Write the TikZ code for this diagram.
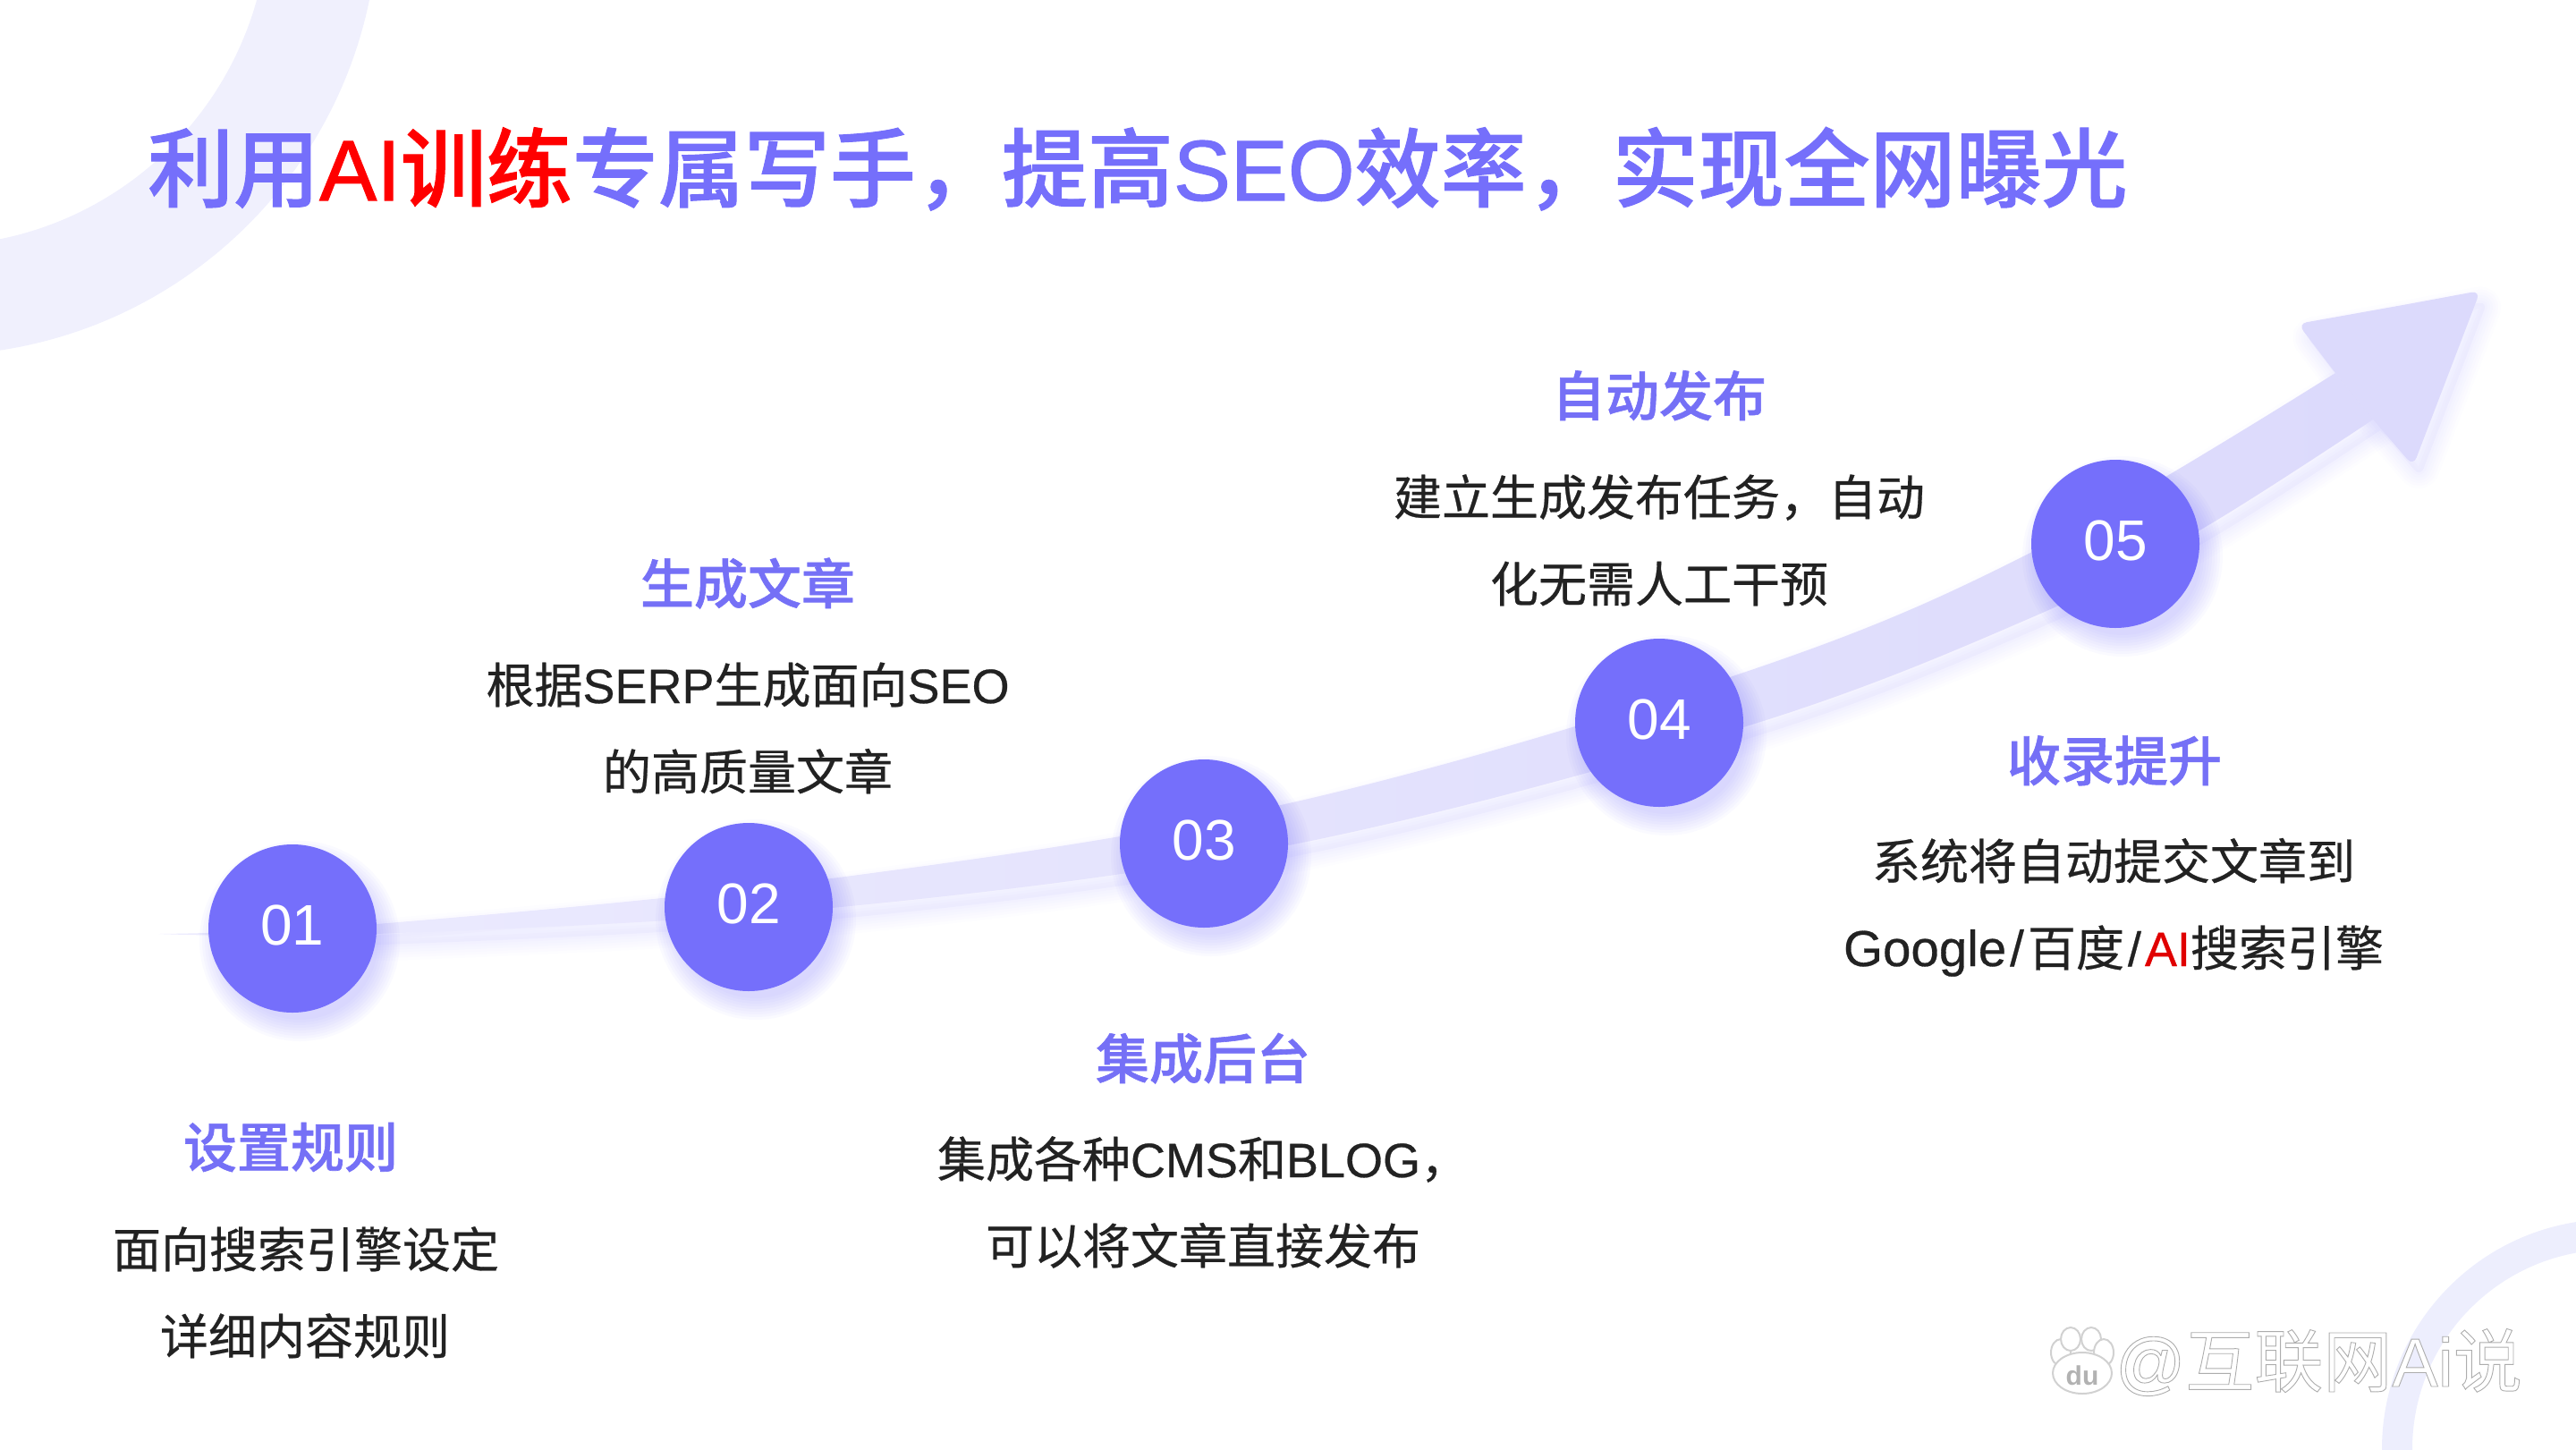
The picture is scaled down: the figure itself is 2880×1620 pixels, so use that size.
\documentclass[tikz,border=0pt]{standalone}
\usepackage{fontspec}
\setmainfont{Noto Sans CJK SC}
\newfontfamily\cnm{Noto Sans CJK SC Medium}[FakeBold=1]
\newfontfamily\cnbody{Noto Sans CJK SC}[FakeBold=.5]
\newfontfamily\lat{Liberation Sans}
\newfontfamily\latbody{Liberation Sans}[FakeBold=.5]
\newfontfamily\latb{Liberation Sans}[FakeBold=1.2]
\newcommand{\en}[1]{{\latbody #1}}
\newcommand{\fwc}{\char"FF0C\relax}
\definecolor{brand}{HTML}{756FFB}
\definecolor{headc}{HTML}{7570F6}
\definecolor{ringa}{HTML}{F0F0FD}
\definecolor{ringb}{HTML}{EDEEFD}
\definecolor{bandl}{HTML}{ECEBFE}
\definecolor{bandr}{HTML}{DCDAFC}
\definecolor{bodyc}{HTML}{222222}
\definecolor{redb}{HTML}{E00000}
\newcommand{\bandoutline}{
  plot[smooth,tension=.6] coordinates {(177,1044) (421,1033) (930,982) (1441,898) (1949,752) (2272,617) (2611,417)}
  -- (2653,469)
  -- plot[smooth,tension=.6] coordinates {(2653,469) (2459,593) (2272,690) (1949,813) (1441,945) (930,1015) (421,1044) (177,1044)}
  -- cycle
}
\newcommand{\headoutline}{
  [rounded corners=10pt] (2692,340) -- (2773,325) -- (2698,521) -- (2653,469) -- (2611,417) -- (2569,362) -- cycle
}
\tikzset{
  dot/.style={circle,fill=brand,text=white,minimum size=188pt,inner sep=0pt,
    font=\lat\fontsize{64}{64}\selectfont,text height=45pt,text depth=9pt},
  stagehead/.style={anchor=base,text=headc,inner sep=0pt,font=\cnm\fontsize{60}{60}\selectfont},
  stagebody/.style={anchor=base,text=bodyc,inner sep=0pt,font=\cnbody\fontsize{54}{54}\selectfont},
}
\begin{document}
\begin{tikzpicture}[x=1pt,y=-1pt]
\useasboundingbox (0,0) rectangle (2880,1620);
\clip (0,0) rectangle (2880,1620);
% decorative rings
\draw[ringa,line width=122.5pt] (-75,-101) circle[radius=437pt];
\draw[ringb,line width=34pt] (2920,1620) circle[radius=240pt];
% band shadow, starting behind the first dot
\begin{scope}
  \clip (327,0) rectangle (2880,1620);
  \begin{scope}[shift={(8,12)}]
  \fill[brand,opacity=.05] \bandoutline;
  \fill[brand,opacity=.05] \headoutline;
  \foreach \w in {6,12,18,24,30,36}{
    \draw[brand,opacity=.017,line width=\w pt,line join=round] \bandoutline;
    \draw[brand,opacity=.017,line width=\w pt,line join=round] \headoutline;
  }
  \end{scope}
\end{scope}
% band and head
\shade[left color=bandl,right color=bandr] \bandoutline;
\fill[bandr] \headoutline;
% dot shadows
\foreach \cx/\cy in {327/1038,837/1014,1346/943,1855/808,2365/608}{
  \foreach \r in {88,91,...,112}{
    \fill[brand,opacity=.035] (\cx+8,\cy+14) circle[radius=\r pt];
  }
}
% dots
\node[dot] (n1) at (327,1038) {01};
\node[dot] (n2) at (837,1014) {02};
\node[dot] (n3) at (1346,943) {03};
\node[dot] (n4) at (1855,808) {04};
\node[dot] (n5) at (2365,608) {05};
% title
\node[anchor=base west,inner sep=0pt,text=brand,font=\cnm\fontsize{96}{96}\selectfont] (title) at (165,224)
  {利用{\color{red}{\latb AI}训练}专属写手\fwc 提高{\latb SEO}效率\fwc 实现全网曝光};
% stage 1
\node[stagehead] (h1) at (325,1305) {设置规则};
\node[stagebody] (b1a) at (342,1417) {面向搜索引擎设定};
\node[stagebody] (b1b) at (341,1514) {详细内容规则};
% stage 2
\node[stagehead] (h2) at (836,675) {生成文章};
\node[stagebody] (b2a) at (836,786) {根据\en{SERP}生成面向\en{SEO}};
\node[stagebody] (b2b) at (836,883) {的高质量文章};
% stage 3
\node[stagehead] (h3) at (1345,1206) {集成后台};
\node[stagebody] (b3a) at (1345,1316) {集成各种\en{CMS}和\en{BLOG}\fwc};
\node[stagebody] (b3b) at (1345,1413) {可以将文章直接发布};
% stage 4
\node[stagehead] (h4) at (1855,465) {自动发布};
\node[stagebody] (b4a) at (1855,576) {建立生成发布任务\fwc 自动};
\node[stagebody] (b4b) at (1855,673) {化无需人工干预};
% stage 5
\node[stagehead] (h5) at (2364,873) {收录提升};
\node[stagebody] (b5a) at (2363,983) {系统将自动提交文章到};
\node[stagebody] (b5b) at (2363,1080) {\en{\fontsize{56.5}{54}\selectfont Google\kern4pt/\kern4pt}百度\en{\kern4pt/\kern4pt}{\color{redb}\en{AI}}搜索引擎};
% watermark paw
\foreach \px/\py/\prx/\pry/\pn in {2304/1512/11/15/a,2315/1497/11/13/b,2338/1497/11/13/c,2352/1512/11/15/d}{
  \draw[black!18,fill=white,line width=2pt] (\px,\py) ellipse[x radius=\prx pt,y radius=\pry pt];
}
\draw[black!18,fill=white,line width=2pt] (2328,1535) ellipse[x radius=33pt,y radius=23pt];
\node[inner sep=0pt,text=black!30,font=\lat\bfseries\fontsize{30}{30}\selectfont] (du) at (2328,1538) {du};
% watermark text
\node[anchor=base west,inner sep=0pt,font=\fontsize{77}{77}\selectfont] (mark) at (2365,1550)
  {\special{pdf:code q 2 Tr 0.9 w 0.68 G 1 g}{\lat @}互联网{\lat Ai}说\special{pdf:code Q}};
\end{tikzpicture}
\end{document}
